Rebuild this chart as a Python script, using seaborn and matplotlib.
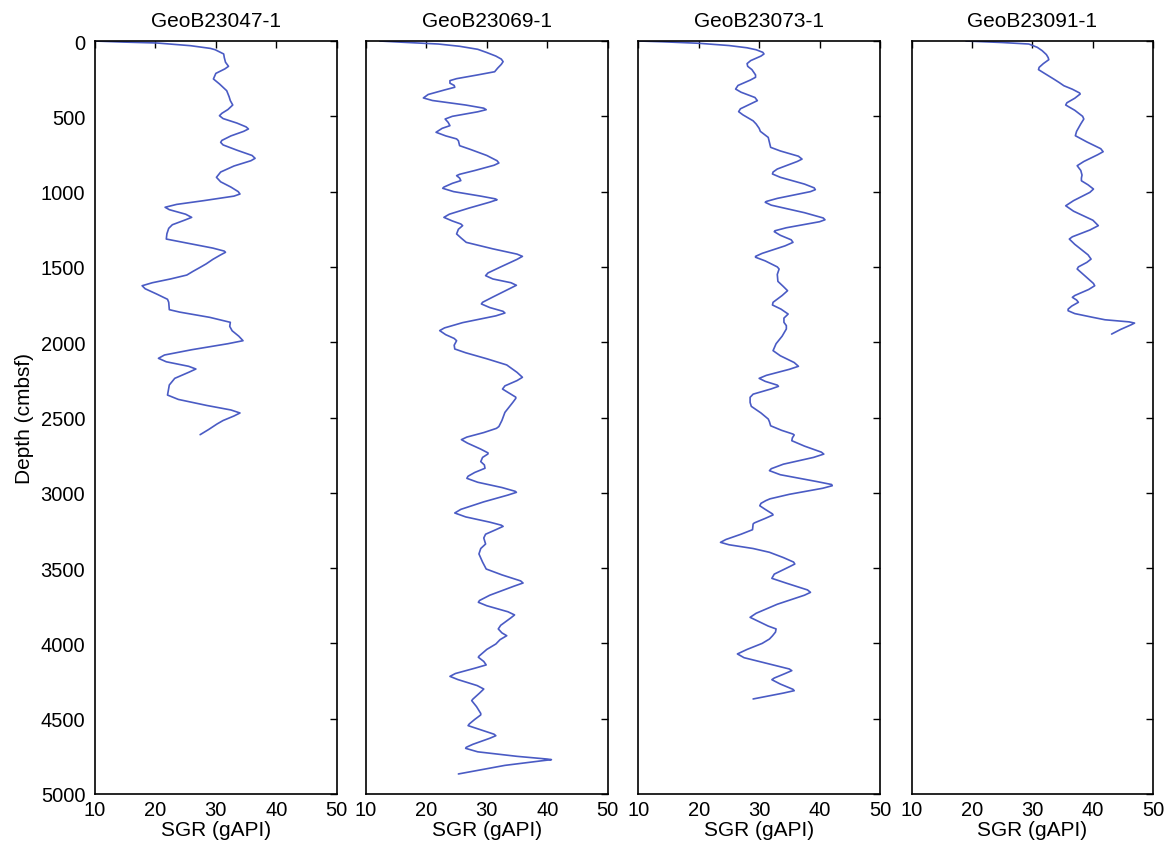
import numpy as np
import pandas as pd
import matplotlib
matplotlib.use("Agg")
import matplotlib.pyplot as plt
import seaborn as sns

# Spectral gamma ray logs: depth (cmbsf) vs SGR (gAPI) for four cores
core_names = ["GeoB23047-1", "GeoB23069-1", "GeoB23073-1", "GeoB23091-1"]

depth_23047 = [0, 7, 13, 31, 49, 58, 86, 110, 141, 168, 185, 215, 252, 285, 330, 370, 396,
               425, 455, 480, 496, 515, 545, 570, 584, 600, 630, 660, 673, 690, 725, 760,
               779, 795, 830, 870, 905, 935, 970, 1000, 1016, 1030, 1060, 1085, 1104, 1120,
               1150, 1171, 1190, 1220, 1244, 1280, 1315, 1340, 1375, 1395, 1403, 1420, 1450,
               1480, 1503, 1530, 1554, 1580, 1605, 1625, 1645, 1680, 1715, 1735, 1784, 1800,
               1835, 1868, 1895, 1924, 1960, 1990, 2010, 2050, 2085, 2107, 2130, 2160, 2178,
               2200, 2240, 2284, 2351, 2380, 2420, 2450, 2470, 2490, 2520, 2543, 2580, 2614]
sgr_23047 = [10.0, 14.7, 20.2, 25.8, 29.1, 29.9, 31.3, 31.4, 31.6, 32.1, 31.5, 30.0, 29.6,
             30.6, 31.8, 32.2, 32.4, 32.8, 32.0, 31.0, 30.6, 31.2, 33.5, 35.0, 35.4, 34.6,
             32.5, 31.0, 30.8, 31.2, 33.5, 36.0, 36.5, 35.8, 33.0, 30.8, 30.1, 30.8, 32.5,
             33.7, 34.0, 33.0, 28.0, 23.5, 21.6, 22.3, 25.0, 26.0, 24.8, 22.8, 22.2, 21.9,
             21.8, 25.0, 29.5, 31.4, 31.6, 30.8, 29.5, 28.4, 27.4, 26.2, 25.2, 22.5, 19.5,
             17.8, 18.3, 20.2, 22.0, 22.2, 22.3, 24.0, 29.0, 32.4, 32.3, 32.7, 33.8, 34.5,
             32.0, 26.0, 21.5, 20.5, 21.8, 25.5, 26.7, 25.5, 23.2, 22.3, 22.0, 23.8, 28.5,
             32.5, 34.0, 33.0, 31.2, 30.2, 28.8, 27.4]

depth_23069 = [0, 8, 20, 35, 55, 75, 100, 120, 137, 155, 180, 204, 225, 250, 263, 280, 295,
               307, 325, 355, 378, 395, 425, 446, 456, 470, 500, 518, 540, 562, 580, 606,
               630, 650, 662, 695, 720, 760, 795, 810, 825, 860, 885, 894, 910, 927, 945,
               970, 978, 1000, 1030, 1048, 1054, 1070, 1110, 1150, 1171, 1195, 1215, 1226,
               1250, 1281, 1310, 1337, 1380, 1415, 1430, 1450, 1500, 1540, 1558, 1580, 1605,
               1622, 1640, 1700, 1735, 1746, 1770, 1795, 1806, 1825, 1870, 1905, 1923, 1950,
               1975, 1990, 2020, 2045, 2070, 2110, 2151, 2200, 2233, 2255, 2290, 2311, 2340,
               2365, 2373, 2400, 2440, 2466, 2520, 2560, 2572, 2600, 2630, 2647, 2670, 2710,
               2735, 2742, 2765, 2793, 2815, 2837, 2865, 2890, 2904, 2930, 2965, 2990, 2997,
               3015, 3060, 3110, 3134, 3160, 3195, 3215, 3223, 3245, 3275, 3300, 3340, 3370,
               3406, 3460, 3506, 3545, 3585, 3599, 3620, 3680, 3715, 3727, 3750, 3790, 3811,
               3830, 3880, 3904, 3930, 3949, 3975, 4004, 4040, 4085, 4092, 4120, 4143, 4165,
               4200, 4219, 4240, 4280, 4303, 4330, 4370, 4380, 4420, 4465, 4475, 4505, 4535,
               4546, 4570, 4603, 4613, 4630, 4670, 4690, 4697, 4720, 4750, 4768, 4772, 4780,
               4810, 4867]
sgr_23069 = [12.3, 16.0, 22.0, 25.5, 28.5, 29.9, 31.5, 32.4, 32.7, 32.4, 31.8, 31.3, 28.5,
             25.0, 23.9, 23.9, 24.6, 24.7, 23.0, 20.3, 19.5, 21.0, 26.5, 29.5, 29.9, 28.5,
             24.3, 23.1, 23.6, 23.9, 22.6, 21.6, 23.2, 25.0, 25.3, 25.5, 27.3, 30.0, 31.7,
             32.0, 31.2, 28.0, 25.5, 25.0, 25.5, 25.7, 24.3, 22.9, 22.7, 24.5, 29.0, 31.4,
             31.7, 30.5, 27.0, 23.8, 22.9, 24.3, 25.7, 26.0, 25.3, 25.0, 25.8, 26.6, 31.0,
             35.0, 35.9, 35.0, 32.3, 30.2, 29.8, 31.0, 34.0, 34.9, 34.0, 31.0, 29.3, 29.1,
             30.5, 32.7, 33.0, 31.5, 26.0, 23.0, 22.2, 23.2, 24.6, 25.0, 24.6, 24.7, 26.5,
             30.0, 33.3, 35.0, 35.9, 35.0, 33.0, 32.6, 33.8, 34.8, 34.8, 34.3, 33.5, 33.0,
             32.5, 32.0, 31.6, 29.5, 26.7, 25.8, 26.8, 29.0, 30.2, 30.2, 29.3, 29.0, 29.6,
             29.7, 28.0, 26.9, 26.7, 28.5, 32.5, 34.7, 34.9, 33.5, 29.5, 25.7, 24.7, 26.5,
             30.5, 32.4, 32.7, 31.5, 29.8, 29.5, 29.8, 29.0, 28.7, 29.3, 29.9, 32.5, 35.6,
             36.0, 34.5, 30.5, 28.8, 28.6, 30.0, 33.5, 34.6, 34.0, 32.3, 31.9, 32.5, 33.3,
             32.2, 31.5, 30.0, 28.7, 28.6, 29.5, 29.9, 28.0, 24.8, 23.9, 25.2, 28.4, 29.5,
             28.8, 27.7, 27.5, 28.3, 29.0, 29.0, 28.0, 27.1, 26.9, 28.7, 31.2, 31.5, 30.5,
             27.7, 26.6, 26.5, 28.5, 35.0, 40.0, 40.7, 39.0, 33.0, 25.3]

depth_23073 = [0, 5, 15, 30, 45, 58, 75, 86, 100, 130, 150, 168, 190, 225, 241, 260, 295,
               319, 340, 375, 396, 415, 450, 469, 490, 530, 551, 580, 600, 640, 673, 706,
               730, 765, 784, 800, 850, 870, 883, 905, 950, 975, 987, 1000, 1045, 1065, 1071,
               1090, 1140, 1175, 1187, 1200, 1240, 1260, 1266, 1290, 1320, 1337, 1360, 1410,
               1430, 1436, 1460, 1500, 1514, 1550, 1596, 1630, 1658, 1690, 1735, 1753, 1780,
               1813, 1840, 1868, 1890, 1912, 1960, 2010, 2056, 2090, 2135, 2160, 2180, 2220,
               2240, 2260, 2285, 2293, 2310, 2345, 2366, 2400, 2426, 2470, 2510, 2528, 2555,
               2585, 2610, 2616, 2635, 2654, 2690, 2730, 2743, 2765, 2810, 2840, 2853, 2880,
               2925, 2945, 2953, 2970, 3010, 3040, 3052, 3070, 3086, 3110, 3140, 3147, 3170,
               3200, 3207, 3245, 3275, 3310, 3329, 3345, 3370, 3395, 3430, 3460, 3473, 3495,
               3540, 3568, 3600, 3645, 3661, 3680, 3740, 3800, 3827, 3850, 3885, 3904, 3925,
               3950, 3971, 4000, 4040, 4070, 4095, 4140, 4170, 4181, 4200, 4230, 4241, 4270,
               4305, 4314, 4330, 4369]
sgr_23073 = [10.2, 14.0, 20.0, 25.0, 28.0, 29.5, 30.6, 30.8, 30.3, 28.6, 28.0, 28.1, 28.8,
             29.4, 29.4, 28.5, 26.5, 26.1, 27.0, 29.3, 29.7, 28.7, 26.9, 26.6, 27.3, 29.0,
             29.5, 30.0, 30.2, 31.5, 31.7, 31.9, 33.5, 36.5, 37.1, 36.3, 33.0, 32.3, 32.2,
             33.5, 37.5, 39.1, 39.3, 38.5, 33.0, 31.2, 31.0, 32.0, 37.5, 40.6, 40.9, 40.0,
             34.5, 32.6, 32.5, 33.5, 35.3, 35.6, 34.3, 30.5, 29.4, 29.4, 31.0, 33.0, 33.3,
             33.0, 33.1, 34.0, 34.7, 33.8, 32.3, 32.2, 33.6, 34.8, 34.1, 34.1, 34.5, 34.5,
             33.8, 32.8, 32.3, 33.5, 35.8, 36.5, 35.0, 31.2, 30.0, 31.0, 33.0, 33.2, 32.0,
             29.0, 28.5, 28.5, 28.7, 30.3, 31.5, 31.7, 31.9, 33.7, 35.6, 35.8, 35.5, 35.4,
             37.5, 40.3, 40.7, 39.0, 34.0, 32.0, 31.7, 33.5, 39.5, 42.0, 42.1, 40.5, 35.0,
             31.8, 31.1, 30.3, 30.1, 31.0, 32.2, 32.3, 31.0, 29.2, 29.0, 28.9, 27.0, 24.5,
             23.6, 25.0, 29.0, 31.7, 34.0, 35.7, 35.9, 34.8, 32.5, 32.1, 34.5, 38.0, 38.5,
             37.5, 33.0, 29.5, 28.5, 29.7, 31.5, 32.8, 32.7, 32.2, 31.7, 30.5, 28.0, 26.4,
             27.5, 32.0, 35.0, 35.4, 34.3, 32.5, 32.1, 33.5, 35.6, 35.8, 34.0, 29.0]

depth_23091 = [0, 10, 20, 42, 64, 90, 110, 124, 150, 175, 190, 215, 252, 275, 297, 320, 345,
               352, 380, 410, 425, 460, 500, 518, 550, 600, 629, 670, 715, 735, 755, 800,
               828, 860, 890, 910, 928, 955, 983, 1005, 1060, 1094, 1130, 1190, 1226, 1255,
               1300, 1315, 1350, 1420, 1448, 1470, 1500, 1514, 1560, 1610, 1625, 1650, 1690,
               1702, 1720, 1735, 1760, 1780, 1791, 1810, 1835, 1851, 1865, 1873, 1885, 1915,
               1946]
sgr_23091 = [19.0, 25.0, 29.4, 30.8, 31.6, 32.3, 32.6, 32.7, 31.8, 31.1, 31.0, 32.0, 33.5,
             34.4, 35.2, 36.6, 37.8, 37.9, 37.0, 35.7, 35.5, 37.0, 38.3, 38.5, 38.0, 37.3,
             37.1, 39.0, 41.3, 41.7, 40.8, 38.5, 37.4, 38.0, 38.2, 38.1, 38.1, 39.2, 40.1,
             39.5, 36.8, 35.5, 36.8, 40.0, 40.9, 39.5, 36.6, 36.1, 37.0, 39.2, 39.7, 39.0,
             37.6, 37.4, 38.7, 40.1, 40.3, 39.3, 37.0, 36.6, 37.3, 37.6, 36.5, 35.9, 35.9,
             37.0, 40.0, 42.0, 46.0, 46.9, 46.3, 44.6, 43.1]

x_ticks = [10, 20, 30, 40, 50]
y_ticks = list(range(0, 5001, 500))

logs = [(depth_23047, sgr_23047), (depth_23069, sgr_23069),
        (depth_23073, sgr_23073), (depth_23091, sgr_23091)]

sns.set_style("white")
plt.rcParams["font.family"] = ["Liberation Sans", "DejaVu Sans"]
plt.rcParams["text.color"] = "black"
plt.rcParams["axes.labelcolor"] = "black"

fig = plt.figure(figsize=(11.73, 8.54), dpi=100)
lefts = [0.0810, 0.3120, 0.5442, 0.7772]
width, bottom, height = 0.2060, 0.0691, 0.8817
line_color = "#4a5bc4"

for i, (name, (dep, sgr)) in enumerate(zip(core_names, logs)):
    ax = fig.add_axes([lefts[i], bottom, width, height])
    df = pd.DataFrame({"SGR": sgr, "Depth": dep})
    sns.lineplot(data=df, x="SGR", y="Depth", sort=False, estimator=None,
                 color=line_color, linewidth=1.2, ax=ax)
    ax.lines[-1].set_solid_joinstyle("round")
    ax.set_xlim(10, 50)
    ax.set_ylim(5000, 0)
    ax.set_xticks(x_ticks)
    ax.set_yticks(y_ticks)
    ax.tick_params(direction="in", length=5, width=1.0, top=True, right=True,
                   labelsize=14.5, colors="black")
    ax.tick_params(axis="y", pad=7)
    ax.tick_params(axis="x", pad=4)
    for s in ax.spines.values():
        s.set_color("black")
        s.set_linewidth(1.2)
    ax.set_title(name, fontsize=15, pad=11, color="black")
    ax.set_xlabel("SGR (gAPI)", fontsize=15, labelpad=1)
    if i == 0:
        ax.set_ylabel("Depth (cmbsf)", fontsize=15, labelpad=5)
    else:
        ax.set_ylabel("")
        ax.set_yticklabels([])

fig.savefig("out.png", dpi=100, facecolor="white")
